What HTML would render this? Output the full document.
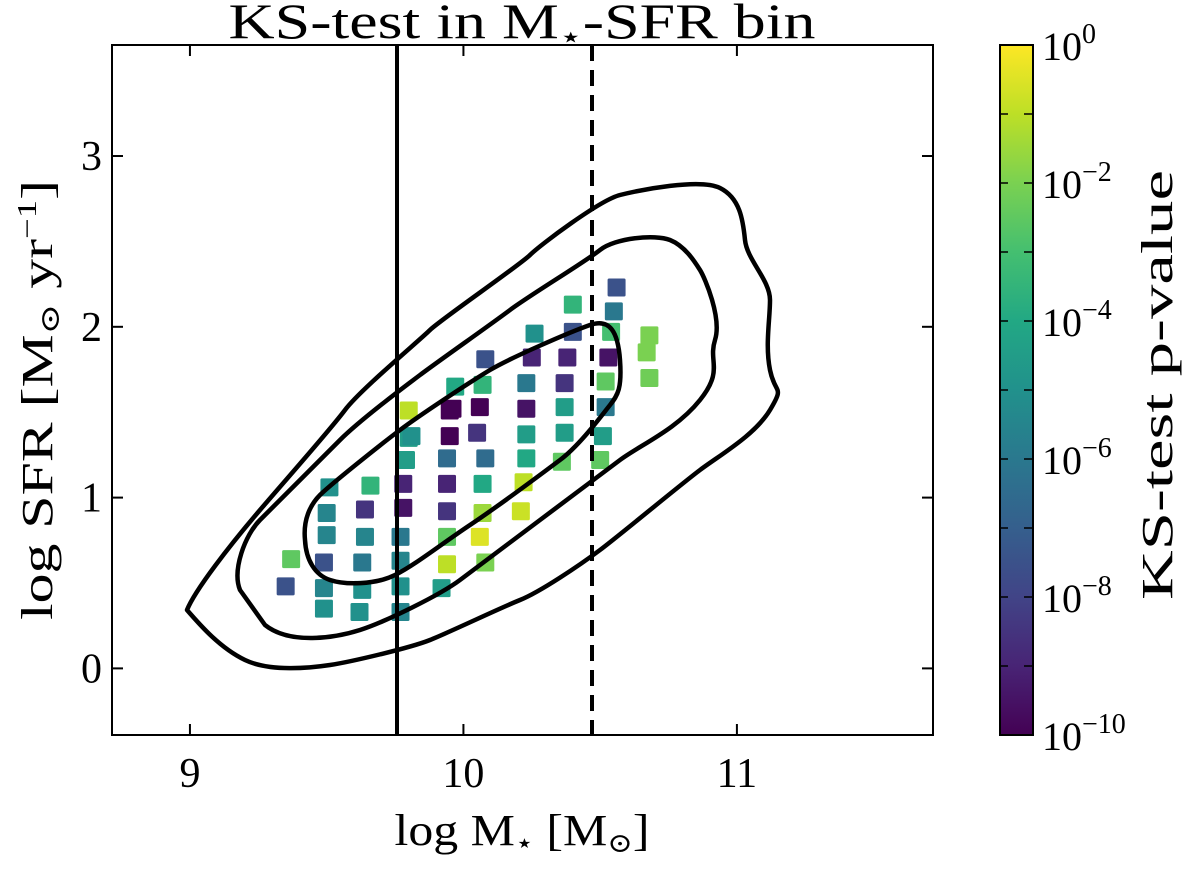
<!DOCTYPE html>
<html><head><meta charset="utf-8"><style>
body{margin:0;background:#fff}
svg text{font-family:"Liberation Serif","DejaVu Serif",serif;fill:#000}
</style></head><body>
<svg id="chart" width="1200" height="873" viewBox="0 0 1200 873" xmlns="http://www.w3.org/2000/svg">
<defs>
<linearGradient id="vir" x1="0" y1="1" x2="0" y2="0">
<stop offset="0" stop-color="#440154"/><stop offset="0.1" stop-color="#482475"/><stop offset="0.2" stop-color="#414487"/><stop offset="0.3" stop-color="#355f8d"/><stop offset="0.4" stop-color="#2a788e"/><stop offset="0.5" stop-color="#21918c"/><stop offset="0.6" stop-color="#22a884"/><stop offset="0.7" stop-color="#44bf70"/><stop offset="0.8" stop-color="#7ad151"/><stop offset="0.9" stop-color="#bddf26"/><stop offset="1" stop-color="#fde725"/>
</linearGradient>
<clipPath id="plotclip"><rect x="112" y="45" width="821" height="690"/></clipPath>
</defs>
<text x="522" y="38" font-size="50" text-anchor="middle" textLength="587" lengthAdjust="spacingAndGlyphs">KS-test in M<tspan font-size="30" dy="9">⋆</tspan><tspan dy="-9">-SFR bin</tspan></text>
<g id="marks" clip-path="url(#plotclip)"></g>
<g id="contours" fill="none" stroke="#000" stroke-width="4.5" stroke-linejoin="round">
<path d="M187,610 C195,590 230,545 260,510 S330,430 345,410 S420,340 430,330 S520,265 530,255 S600,200 620,195 S700,178 720,188 S743,220 745,240 S770,280 770,300 S765,345 770,370 S785,385 770,410 S720,455 700,470 S620,535 600,550 S540,592 520,600 S450,632 430,640 S350,662 330,665 S270,672 245,660 S200,625 187,610 Z"/>
<path d="M240,590 C232,570 245,535 260,520 S320,460 340,440 S400,390 420,375 S490,325 510,310 S585,262 600,250 S655,234 670,240 S695,262 700,270 S722,318 715,340 S724,370 700,400 S640,445 620,460 S560,505 540,520 S480,565 460,580 S385,622 360,630 S290,645 265,625 Z"/>
<path d="M305,540 C303,520 310,505 320,495 S380,445 400,430 S470,382 490,370 S570,332 590,325 S618,332 620,360 S618,395 610,405 S580,445 560,460 S500,505 470,525 S415,565 395,575 S345,585 330,580 S306,560 305,540 Z"/>
</g>
<line x1="397" y1="45" x2="397" y2="735" stroke="#000" stroke-width="4"/>
<line x1="592" y1="45" x2="592" y2="735" stroke="#000" stroke-width="4" stroke-dasharray="16,9"/>
<rect x="112" y="45" width="821" height="690" fill="none" stroke="#000" stroke-width="2"/>
<g id="axes"></g>
<text x="522" y="845" font-size="44" text-anchor="middle" textLength="255" lengthAdjust="spacingAndGlyphs">log M<tspan font-size="27" dy="7">⋆</tspan><tspan dy="-7"> [M</tspan><tspan font-size="27" dy="7">⊙</tspan><tspan dy="-7">]</tspan></text>
<text transform="translate(52,400) rotate(-90)" font-size="44" text-anchor="middle" textLength="440" lengthAdjust="spacingAndGlyphs">log SFR [M<tspan font-size="27" dy="7">⊙</tspan><tspan dy="-7"> yr</tspan><tspan font-size="27" dy="-16">−1</tspan><tspan dy="16">]</tspan></text>
<rect x="1000" y="45" width="33" height="690" fill="url(#vir)" stroke="#000" stroke-width="2"/>
<g id="cbaxis"></g>
<text transform="translate(1172,385) rotate(-90)" font-size="44" text-anchor="middle" textLength="430" lengthAdjust="spacingAndGlyphs">KS-test p-value</text>
</svg>
<script>
const xTicks=[9,10,11];
const yTicks=[0,1,2,3];
const cbTicks=[0,-2,-4,-6,-8,-10];
const massX=[9.35,9.37,9.49,9.49,9.49,9.50,9.50,9.51,9.62,9.63,9.63,9.64,9.64,9.66,9.77,9.77,9.77,9.77,9.78,9.78,9.79,9.80,9.80,9.81,9.92,9.94,9.94,9.94,9.94,9.94,9.95,9.95,9.96,9.97,10.08,10.06,10.07,10.07,10.08,10.05,10.06,10.07,10.08,10.21,10.22,10.23,10.23,10.23,10.23,10.25,10.26,10.36,10.37,10.37,10.37,10.38,10.40,10.40,10.50,10.51,10.52,10.52,10.53,10.54,10.55,10.56,10.68,10.67,10.68];
const sfrY=[0.48,0.64,0.35,0.47,0.62,0.78,0.91,1.06,0.33,0.46,0.62,0.77,0.93,1.07,0.33,0.48,0.63,0.77,0.94,1.08,1.22,1.35,1.51,1.36,0.47,0.61,0.77,0.92,1.08,1.23,1.36,1.51,1.52,1.65,0.62,0.77,0.91,1.08,1.23,1.38,1.53,1.66,1.81,0.92,1.09,1.23,1.37,1.52,1.67,1.82,1.96,1.21,1.38,1.53,1.67,1.82,1.97,2.13,1.22,1.36,1.53,1.68,1.82,1.97,2.09,2.23,1.70,1.85,1.95];
const logP=[-7.5,-2.5,-5,-5.5,-7.5,-5.5,-5.5,-5,-5,-5,-6,-5.5,-8.5,-3.5,-5.5,-5,-5.5,-6,-9.5,-9,-4.5,-4.5,-1,-5,-4.5,-1,-2.5,-8.5,-9,-6.5,-10,-10,-10,-4,-2,-0.5,-1.5,-4,-6.5,-8.5,-10,-3.5,-7.5,-0.8,-1,-4,-4.5,-9.5,-6,-9,-5,-2.5,-4.5,-4.5,-8.5,-9,-7.5,-3.5,-2.5,-4.5,-6,-2.5,-9.5,-3,-6,-7.5,-2.2,-2,-2];
const X0=8.715,X1=11.717,PX0=112,PX1=933;
const Y0=-0.39,Y1=3.65,PY0=735,PY1=45;
function xs(v){return PX0+(v-X0)/(X1-X0)*(PX1-PX0);}
function ys(v){return PY0+(v-Y0)/(Y1-Y0)*(PY1-PY0);}
function cs(v){return 735+(v+10)/10*(45-735);}
const vir=["#440154","#482475","#414487","#355f8d","#2a788e","#21918c","#22a884","#44bf70","#7ad151","#bddf26","#fde725"];
function hex(h){return [1,3,5].map(i=>parseInt(h.substr(i,2),16));}
function color(lp){let t=Math.max(0,Math.min(1,(lp+10)/10))*10;let i=Math.min(9,Math.floor(t)),f=t-i;const a=hex(vir[i]),b=hex(vir[i+1]);return "rgb("+a.map((c,k)=>Math.round(c+(b[k]-c)*f)).join(",")+")";}
const NS="http://www.w3.org/2000/svg";
function mk(tag,attrs,parent){const e=document.createElementNS(NS,tag);for(const k in attrs)e.setAttribute(k,attrs[k]);parent.appendChild(e);return e;}
const marks=document.getElementById('marks');
for(let i=0;i<massX.length;i++){
 const r=mk('rect',{x:xs(massX[i])-9,y:ys(sfrY[i])-9,width:18,height:18,rx:1.5,fill:color(logP[i])},marks);
 
 
}
const ax=document.getElementById('axes');
xTicks.forEach(v=>{const x=xs(v);
 mk('line',{x1:x,y1:735,x2:x,y2:724,stroke:'#000','stroke-width':2},ax);
 mk('line',{x1:x,y1:45,x2:x,y2:56,stroke:'#000','stroke-width':2},ax);
 const t=mk('text',{x:x,y:787,'font-size':42,'text-anchor':'middle'},ax);t.textContent=v;
 
 
});
yTicks.forEach(v=>{const y=ys(v);
 mk('line',{x1:112,y1:y,x2:123,y2:y,stroke:'#000','stroke-width':2},ax);
 mk('line',{x1:933,y1:y,x2:922,y2:y,stroke:'#000','stroke-width':2},ax);
 const t=mk('text',{x:102,y:y+14,'font-size':42,'text-anchor':'end'},ax);t.textContent=v;
 
 
});
const cb=document.getElementById('cbaxis');
for(let d=-10;d<=0;d++){const y=cs(d);
 mk('line',{x1:1033,y1:y,x2:1024,y2:y,stroke:'#000','stroke-width':1.5},cb);
 mk('line',{x1:1000,y1:y,x2:1008,y2:y,stroke:'#000','stroke-width':1.5},cb);}
cbTicks.forEach(v=>{const y=cs(v);
 const t=mk('text',{x:1042,y:y+15,'font-size':40},cb);
 
 
 const a=document.createElementNS(NS,'tspan');a.textContent='10';t.appendChild(a);
 const b=document.createElementNS(NS,'tspan');b.setAttribute('font-size','28');b.setAttribute('dy','-17');b.textContent=(v<0?'−'+(-v):''+v);t.appendChild(b);
});
</script>
</body></html>
